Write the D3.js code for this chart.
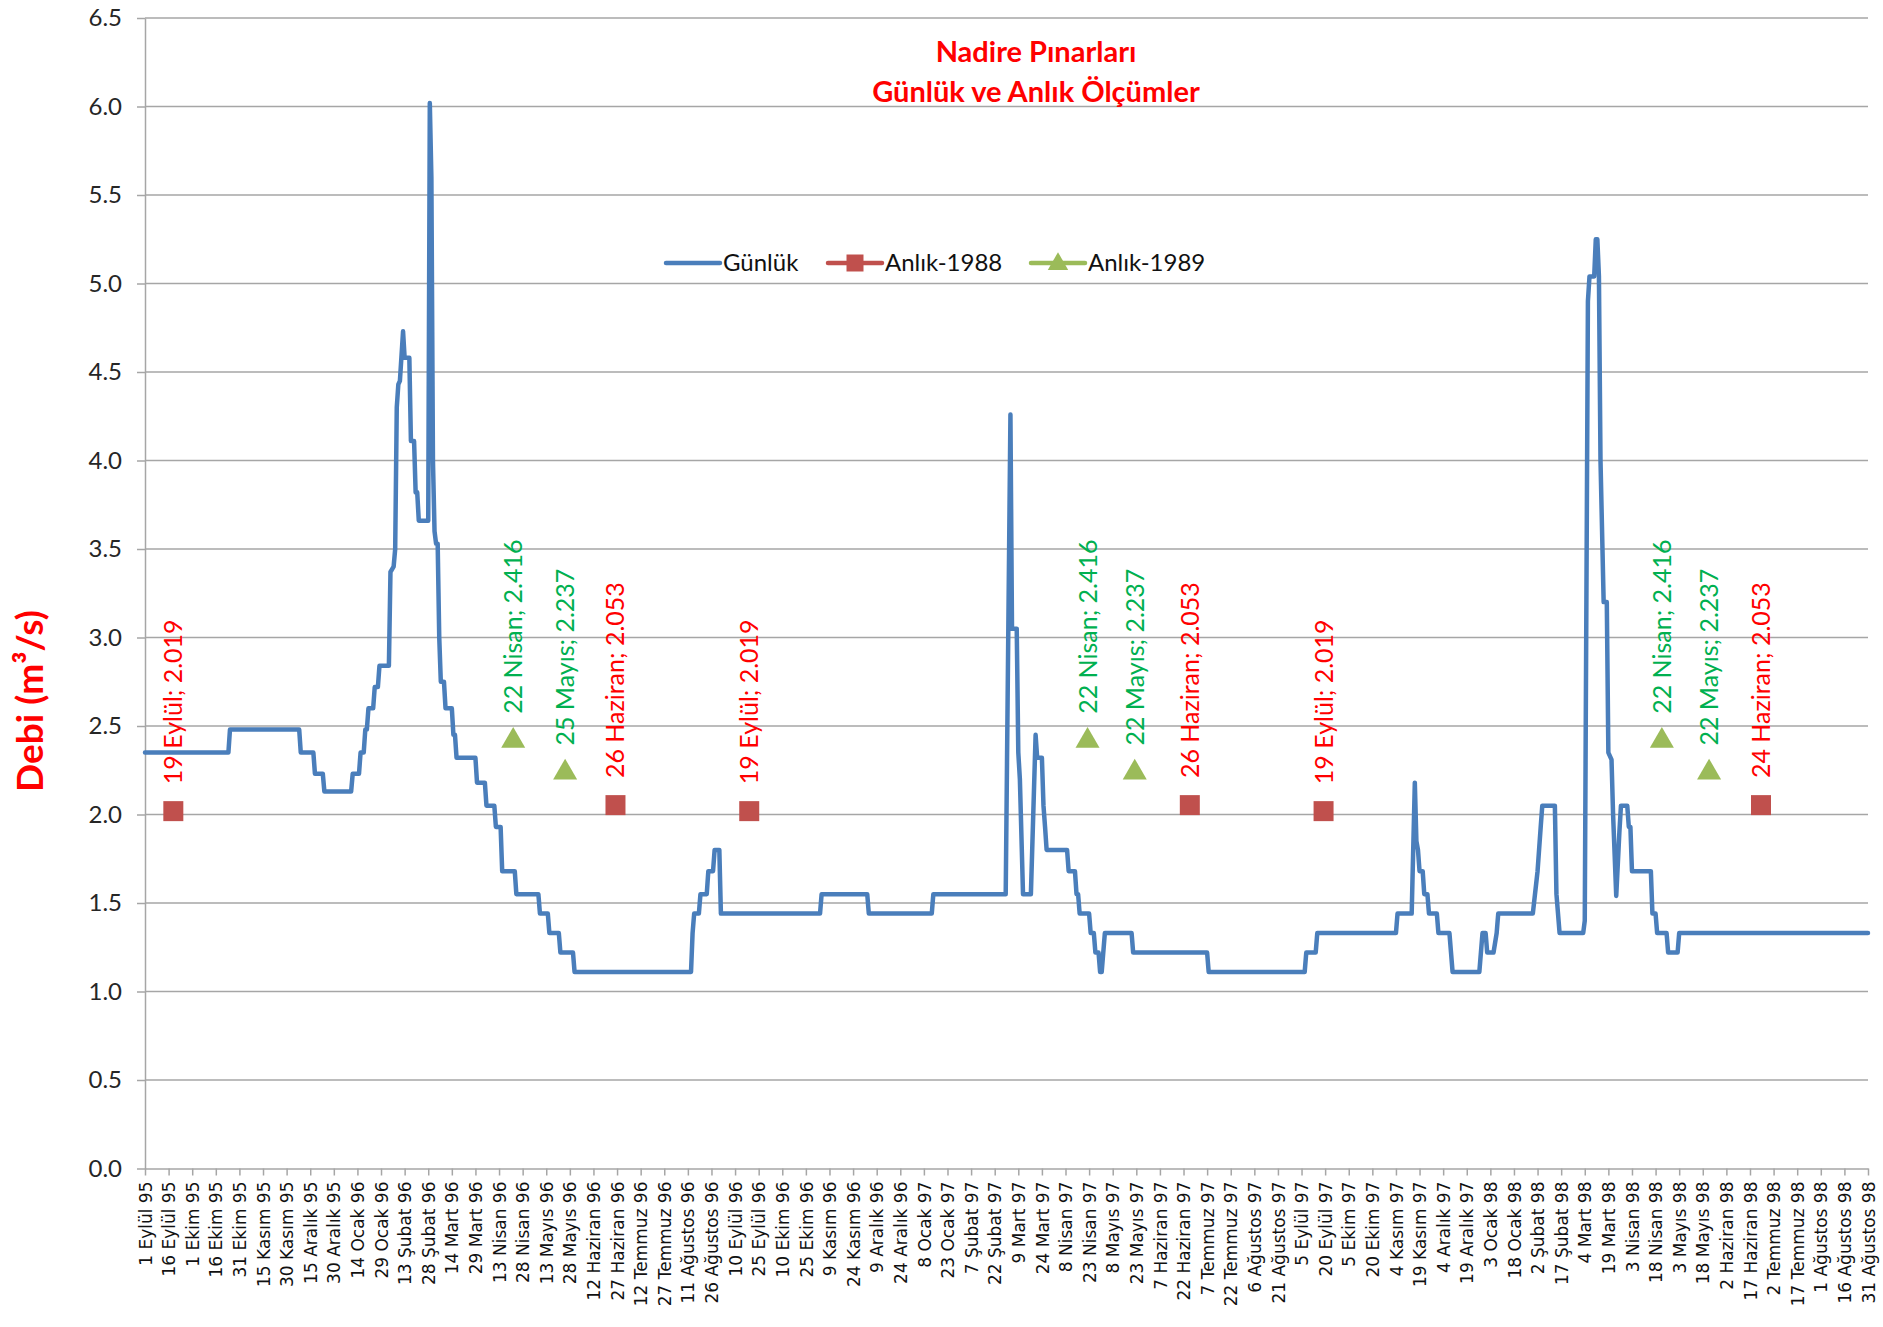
<!DOCTYPE html>
<html>
<head>
<meta charset="utf-8">
<script src="https://cdn.jsdelivr.net/npm/d3@7"></script>
<style>
  body { margin: 0; background: #fff; }
  svg { display: block; }
</style>
</head>
<body>
<script>
// x is a day axis: day 0 = 1 Eylül 1995, day 1095 = 31 Ağustos 1998
const tickLabels = [
  "1 Eylül 95", "16 Eylül 95", "1 Ekim 95", "16 Ekim 95", "31 Ekim 95", "15 Kasım 95", "30 Kasım 95",
  "15 Aralık 95", "30 Aralık 95", "14 Ocak 96", "29 Ocak 96", "13 Şubat 96", "28 Şubat 96", "14 Mart 96",
  "29 Mart 96", "13 Nisan 96", "28 Nisan 96", "13 Mayıs 96", "28 Mayıs 96", "12 Haziran 96", "27 Haziran 96",
  "12 Temmuz 96", "27 Temmuz 96", "11 Ağustos 96", "26 Ağustos 96", "10 Eylül 96", "25 Eylül 96", "10 Ekim 96",
  "25 Ekim 96", "9 Kasım 96", "24 Kasım 96", "9 Aralık 96", "24 Aralık 96", "8 Ocak 97", "23 Ocak 97",
  "7 Şubat 97", "22 Şubat 97", "9 Mart 97", "24 Mart 97", "8 Nisan 97", "23 Nisan 97", "8 Mayıs 97",
  "23 Mayıs 97", "7 Haziran 97", "22 Haziran 97", "7 Temmuz 97", "22 Temmuz 97", "6 Ağustos 97", "21 Ağustos 97",
  "5 Eylül 97", "20 Eylül 97", "5 Ekim 97", "20 Ekim 97", "4 Kasım 97", "19 Kasım 97", "4 Aralık 97",
  "19 Aralık 97", "3 Ocak 98", "18 Ocak 98", "2 Şubat 98", "17 Şubat 98", "4 Mart 98", "19 Mart 98",
  "3 Nisan 98", "18 Nisan 98", "3 Mayıs 98", "18 Mayıs 98", "2 Haziran 98", "17 Haziran 98", "2 Temmuz 98",
  "17 Temmuz 98", "1 Ağustos 98", "16 Ağustos 98", "31 Ağustos 98"
];
const yTicks = [0, 0.5, 1, 1.5, 2, 2.5, 3, 3.5, 4, 4.5, 5, 5.5, 6, 6.5];

// Günlük (daily) series, vertices
const gunlukDay = [
  0, 53, 54, 98, 99, 107, 108, 113, 114, 131,
  132, 136, 137, 139, 140, 141, 142, 145, 146, 148,
  149, 155, 156, 158, 159, 160, 161, 162, 164, 165,
  168, 169, 171, 172, 173, 174, 180, 181, 182, 183,
  184, 185, 186, 187, 188, 190, 191, 195, 196, 197,
  198, 210, 211, 216, 217, 222, 223, 226, 227, 235,
  236, 250, 251, 256, 257, 263, 264, 272, 273, 347,
  348, 349, 352, 353, 357, 358, 361, 362, 365, 366,
  429, 430, 459, 460, 500, 501, 547, 550, 551, 554,
  555, 556, 558, 563, 566, 567, 570, 571, 572, 573,
  586, 587, 591, 592, 593, 594, 600, 601, 603, 604,
  606, 607, 608, 610, 627, 628, 675, 676, 737, 738,
  744, 745, 795, 796, 805, 807, 808, 809, 810, 812,
  813, 815, 816, 821, 822, 829, 830, 831, 848, 850,
  852, 853, 857, 859, 860, 882, 885, 887, 888, 896,
  897, 899, 914, 915, 917, 918, 921, 922, 923, 924,
  925, 927, 929, 930, 932, 933, 935, 937, 938, 942,
  943, 944, 945, 957, 958, 960, 961, 967, 968, 974,
  975, 1095
];
const gunlukVal = [
  2.35, 2.35, 2.48, 2.48, 2.35, 2.35, 2.23, 2.23, 2.13, 2.13,
  2.23, 2.23, 2.35, 2.35, 2.48, 2.48, 2.60, 2.60, 2.72, 2.72,
  2.84, 2.84, 3.37, 3.40, 3.50, 4.30, 4.43, 4.45, 4.73, 4.58,
  4.58, 4.11, 4.11, 3.82, 3.82, 3.66, 3.66, 6.02, 5.60, 4.00,
  3.60, 3.53, 3.53, 3.00, 2.75, 2.75, 2.60, 2.60, 2.45, 2.45,
  2.32, 2.32, 2.18, 2.18, 2.05, 2.05, 1.93, 1.93, 1.68, 1.68,
  1.55, 1.55, 1.44, 1.44, 1.33, 1.33, 1.22, 1.22, 1.11, 1.11,
  1.33, 1.44, 1.44, 1.55, 1.55, 1.68, 1.68, 1.80, 1.80, 1.44,
  1.44, 1.55, 1.55, 1.44, 1.44, 1.55, 1.55, 4.26, 3.05, 3.05,
  2.35, 2.20, 1.55, 1.55, 2.45, 2.32, 2.32, 2.05, 1.93, 1.80,
  1.80, 1.68, 1.68, 1.55, 1.55, 1.44, 1.44, 1.33, 1.33, 1.22,
  1.22, 1.11, 1.11, 1.33, 1.33, 1.22, 1.22, 1.11, 1.11, 1.22,
  1.22, 1.33, 1.33, 1.44, 1.44, 2.18, 1.85, 1.80, 1.68, 1.68,
  1.55, 1.55, 1.44, 1.44, 1.33, 1.33, 1.22, 1.11, 1.11, 1.33,
  1.33, 1.22, 1.22, 1.33, 1.44, 1.44, 1.68, 1.93, 2.05, 2.05,
  1.55, 1.33, 1.33, 1.40, 4.90, 5.04, 5.04, 5.25, 5.25, 5.04,
  4.00, 3.20, 3.20, 2.35, 2.31, 2.00, 1.54, 1.90, 2.05, 2.05,
  1.93, 1.93, 1.68, 1.68, 1.44, 1.44, 1.33, 1.33, 1.22, 1.22,
  1.33, 1.33
];

// Anlık-1988 (squares)
const a88Day = [18, 299, 384, 664, 749, 1027];
const a88Val = [2.019, 2.053, 2.019, 2.053, 2.019, 2.053];
const a88Name = ["19 Eylül", "26 Haziran", "19 Eylül", "26 Haziran", "19 Eylül", "24 Haziran"];

// Anlık-1989 (triangles)
const a89Day = [234, 267, 599, 629, 964, 994];
const a89Val = [2.416, 2.237, 2.416, 2.237, 2.416, 2.237];
const a89Name = ["22 Nisan", "25 Mayıs", "22 Nisan", "22 Mayıs", "22 Nisan", "22 Mayıs"];

const width = 1883, height = 1327;
const plotL = 145, plotR = 1868, plotT = 18, plotB = 1168.5;

const blue = "#4a7ebb", red = "#c0504d", green = "#9bbb59";
const gridCol = "#a6a6a6";
const calib = "Lato, 'Open Sans', sans-serif";

const x = d3.scaleLinear().domain([0, 1095]).range([plotL, plotR]);
const y = d3.scaleLinear().domain([0, 6.5]).range([plotB, plotT]);

const svg = d3.select("body").append("svg")
  .attr("width", width).attr("height", height)
  .style("background", "#fff");

// gridlines
svg.append("g")
  .selectAll("line")
  .data(yTicks.filter(d => d > 0))
  .join("line")
  .attr("x1", plotL).attr("x2", plotR)
  .attr("y1", d => y(d)).attr("y2", d => y(d))
  .attr("stroke", gridCol).attr("stroke-width", 1.5);

// y axis
const gy = svg.append("g")
  .attr("transform", `translate(${plotL},0)`)
  .call(d3.axisLeft(y).tickValues(yTicks).tickFormat(d3.format(".1f")).tickSize(8).tickPadding(15).tickSizeOuter(0));
gy.selectAll("line, path").attr("stroke", gridCol).attr("stroke-width", 1.5);
gy.selectAll("text").attr("font-family", calib).attr("font-size", 24).attr("fill", "#262626");

// x axis
const tickDays = tickLabels.map((d, i) => i * 15);
const gx = svg.append("g")
  .attr("transform", `translate(0,${plotB})`)
  .call(d3.axisBottom(x).tickValues(tickDays).tickFormat((d, i) => tickLabels[i]).tickSize(7).tickSizeOuter(0));
gx.selectAll("line, path").attr("stroke", gridCol).attr("stroke-width", 1.5);
gx.selectAll("text")
  .attr("font-family", "'DejaVu Sans', Verdana, sans-serif")
  .attr("font-size", 17)
  .attr("fill", "#111")
  .attr("transform", "rotate(-90)")
  .attr("text-anchor", "end")
  .attr("x", -13).attr("y", 0).attr("dy", "0.36em");

// daily line
const pts = gunlukDay.map((d, i) => [d, gunlukVal[i]]);
svg.append("path")
  .datum(pts)
  .attr("fill", "none")
  .attr("stroke", blue)
  .attr("stroke-width", 4.5)
  .attr("stroke-linejoin", "round")
  .attr("stroke-linecap", "round")
  .attr("d", d3.line().x(d => x(d[0])).y(d => y(d[1])));

const square = d3.symbol(d3.symbolSquare, 400);
const tri = d3.symbol(d3.symbolTriangle, 250);

// markers + labels
const fmt = d3.format(".3f");
function markers(days, vals, names, sym, fill, labCol) {
  const g = svg.append("g");
  g.selectAll("path")
    .data(days)
    .join("path")
    .attr("transform", (d, i) => `translate(${x(d)},${y(vals[i])})`)
    .attr("d", sym)
    .attr("fill", fill);
  g.selectAll("text")
    .data(days)
    .join("text")
    .attr("transform", (d, i) => `translate(${x(d)},${y(vals[i]) - 27}) rotate(-90)`)
    .attr("dy", "0.36em")
    .attr("font-family", calib)
    .attr("font-size", 25)
    .attr("fill", labCol)
    .text((d, i) => `${names[i]}; ${fmt(vals[i])}`);
}
markers(a88Day, a88Val, a88Name, square, red, "#ff0000");
markers(a89Day, a89Val, a89Name, tri, green, "#00b050");

// legend
const leg = svg.append("g").attr("font-family", calib).attr("font-size", 24).attr("fill", "#111");
const legItems = [
  {name: "Günlük", x0: 666, color: blue, sym: null},
  {name: "Anlık-1988", x0: 828, color: red, sym: square},
  {name: "Anlık-1989", x0: 1031, color: green, sym: tri}
];
const legY = 263;
legItems.forEach(it => {
  leg.append("line")
    .attr("x1", it.x0).attr("x2", it.x0 + 54)
    .attr("y1", legY).attr("y2", legY)
    .attr("stroke", it.color).attr("stroke-width", 4.5).attr("stroke-linecap", "round");
  if (it.sym) {
    leg.append("path")
      .attr("transform", `translate(${it.x0 + 27},${legY + (it.sym === tri ? 1 : 0)}) scale(0.85)`)
      .attr("d", it.sym).attr("fill", it.color);
  }
  leg.append("text")
    .attr("x", it.x0 + 57).attr("y", legY).attr("dy", "0.35em")
    .text(it.name);
});

// title
const title = svg.append("g")
  .attr("font-family", calib).attr("font-weight", "bold")
  .attr("font-size", 29).attr("fill", "#ff0000").attr("text-anchor", "middle");
title.append("text").attr("x", 1036).attr("y", 62).text("Nadire Pınarları");
title.append("text").attr("x", 1036).attr("y", 102).text("Günlük ve Anlık Ölçümler");

// y axis title
svg.append("text")
  .attr("transform", "translate(30,701) rotate(-90)")
  .attr("text-anchor", "middle").attr("dy", "0.35em")
  .attr("font-family", calib).attr("font-weight", "bold")
  .attr("font-size", 37).attr("fill", "#ff0000")
  .text("Debi (m³/s)");
</script>
</body>
</html>
